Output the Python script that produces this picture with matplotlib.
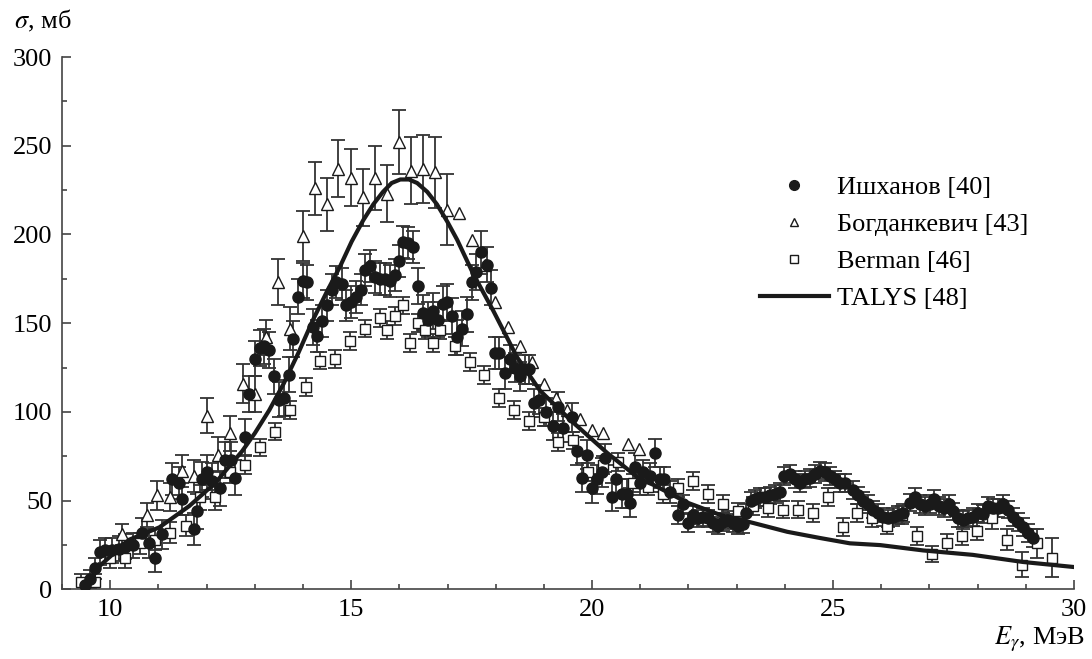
import numpy as np
import matplotlib
matplotlib.use('Agg')
import matplotlib.pyplot as plt
from matplotlib.lines import Line2D
from matplotlib.ticker import MultipleLocator

plt.rcParams['font.family'] = ['Liberation Serif', 'DejaVu Serif']
plt.rcParams['mathtext.fontset'] = 'stix'

# Ишханов [40]  (E, sigma, error)
ish_x = [9.48, 9.58, 9.69, 9.79, 9.90, 10.04, 10.19, 10.31, 10.48, 10.66,
         10.81, 10.93, 11.08, 11.29, 11.43, 11.49, 11.74, 11.80, 11.91, 12.01,
         12.12, 12.28, 12.39, 12.50, 12.59, 12.80, 12.88, 13.01, 13.10, 13.20,
         13.30, 13.40, 13.51, 13.61, 13.71, 13.80, 13.90, 14.00, 14.09, 14.21,
         14.29, 14.40, 14.50, 14.61, 14.69, 14.81, 14.90, 15.00, 15.10, 15.21,
         15.29, 15.39, 15.50, 15.60, 15.71, 15.81, 15.91, 16.00, 16.08, 16.18,
         16.29, 16.39, 16.49, 16.60, 16.70, 16.80, 16.91, 16.99, 17.10, 17.20,
         17.30, 17.41, 17.51, 17.59, 17.70, 17.82, 17.90, 17.99, 18.07, 18.20,
         18.30, 18.40, 18.50, 18.61, 18.69, 18.80, 18.90, 19.05, 19.19, 19.29,
         19.40, 19.58, 19.69, 19.79, 19.90, 20.00, 20.10, 20.21, 20.27, 20.41,
         20.50, 20.62, 20.73, 20.79, 20.89, 21.00, 21.06, 21.20, 21.31, 21.41,
         21.49, 21.62, 21.78, 21.89, 21.99, 22.10, 22.20, 22.30, 22.41, 22.51,
         22.61, 22.72, 22.82, 22.93, 23.03, 23.13, 23.20, 23.30, 23.38, 23.49,
         23.59, 23.69, 23.80, 23.90, 23.98, 24.11, 24.21, 24.32, 24.42, 24.52,
         24.63, 24.73, 24.83, 24.94, 25.04, 25.15, 25.25, 25.41, 25.52, 25.62,
         25.73, 25.83, 25.93, 26.04, 26.14, 26.24, 26.35, 26.45, 26.60, 26.70,
         26.80, 26.91, 27.01, 27.10, 27.20, 27.30, 27.41, 27.49, 27.59, 27.70,
         27.80, 27.90, 28.01, 28.11, 28.22, 28.32, 28.42, 28.53, 28.63, 28.73,
         28.84, 28.94, 29.04, 29.15]
ish_y = [2.5, 6, 12, 21, 22, 22, 23, 24, 25, 32,
         26, 18, 31, 62, 60, 51, 34, 44, 62, 66,
         61, 57, 73, 73, 63, 86, 110, 130, 136, 137,
         135, 120, 107, 108, 121, 141, 165, 174, 173, 148,
         143, 151, 160, 169, 173, 172, 160, 162, 165, 169,
         180, 182, 176, 175, 175, 174, 177, 185, 196, 195,
         193, 171, 156, 152, 157, 152, 161, 162, 154, 142,
         147, 155, 173, 179, 190, 183, 170, 133, 133, 122,
         130, 125, 120, 124, 124, 105, 107, 100, 92, 103,
         91, 97, 78, 63, 76, 57, 62, 66, 74, 52,
         62, 54, 54, 49, 69, 60, 66, 64, 77, 62,
         62, 55, 42, 48, 37.5, 42, 40, 41, 40, 37.5,
         36, 38, 39, 37.5, 36, 37, 43, 50, 51, 52,
         52, 53, 54, 55, 64, 65, 62, 60, 62, 63,
         65, 67, 66, 64, 62, 60, 60, 56, 53, 50,
         48, 45, 43, 41, 40, 41, 42, 43, 49, 52,
         48, 47, 48, 51, 47, 46, 48, 44, 40, 39,
         40, 41, 43, 42.5, 47, 46, 46, 48, 45, 41,
         38, 35, 32, 29]
ish_err = [4, 5, 6, 7, 7, 7, 7, 7, 7, 8,
           8, 8, 8, 9, 9, 9, 9, 10, 10, 10,
           10, 10, 10, 10, 10, 10, 10, 10, 10, 10,
           10, 10, 10, 10, 10, 10, 10, 10, 10, 10,
           9, 9, 9, 9, 9, 9, 9, 9, 9, 9,
           9, 9, 9, 9, 9, 9, 9, 9, 9, 9,
           9, 10, 10, 10, 10, 10, 10, 10, 10, 10,
           10, 10, 10, 10, 12, 10, 10, 9, 9, 9,
           8, 8, 8, 8, 8, 8, 8, 8, 8, 8,
           8, 8, 8, 8, 8, 8, 8, 8, 8, 8,
           8, 8, 8, 8, 8, 7, 7, 7, 8, 7,
           7, 6, 5, 5, 5, 5, 5, 5, 5, 5,
           5, 5, 5, 5, 5, 5, 5, 5, 5, 5,
           5, 5, 5, 5, 5, 5, 5, 5, 5, 5,
           5, 5, 5, 5, 5, 5, 5, 5, 5, 5,
           5, 5, 5, 5, 5, 5, 5, 5, 5, 5,
           5, 5, 5, 5, 5, 5, 5, 5, 5, 5,
           5, 5, 5, 5, 5, 5, 5, 5, 5, 5,
           5, 5, 5, 5]

# Богданкевич [43]
bog_x = [10.25, 10.77, 10.98, 11.24, 11.49, 11.73, 12.00, 12.24, 12.49, 12.75,
         13.01, 13.24, 13.49, 13.73, 14.00, 14.25, 14.50, 14.73, 15.00, 15.25,
         15.50, 15.75, 16.00, 16.24, 16.49, 16.74, 16.99, 17.24, 17.51, 17.78,
         17.99, 18.26, 18.51, 18.76, 19.00, 19.25, 19.48, 19.75, 20.00, 20.23,
         20.75, 20.98]
bog_y = [31, 42, 53, 52, 67, 64, 98, 76, 88, 116,
         110, 142, 173, 147, 199, 226, 217, 237, 232, 221,
         232, 223, 252, 236, 237, 235, 214, 212, 197, 183,
         162, 148, 137, 128, 116, 108, 101, 96, 90, 88,
         82, 79]
bog_err = [6, 7, 8, 8, 9, 9, 10, 10, 10, 11,
           10, 10, 13, 12, 14, 15, 15, 16, 16, 16,
           18, 16, 18, 19, 19, 20, 20, 0, 0, 0,
           0, 0, 0, 0, 0, 0, 0, 0, 0, 0,
           0, 0]

# Berman [46]
ber_x = [9.40, 9.69, 10.00, 10.31, 10.62, 10.93, 11.24, 11.58, 11.87, 12.18,
         12.49, 12.80, 13.11, 13.42, 13.73, 14.06, 14.36, 14.67, 14.98, 15.29,
         15.60, 15.75, 15.91, 16.08, 16.22, 16.39, 16.54, 16.70, 16.85, 17.16,
         17.47, 17.76, 18.07, 18.38, 18.69, 19.00, 19.29, 19.61, 19.92, 20.23,
         20.54, 20.85, 21.16, 21.47, 21.78, 22.10, 22.41, 22.72, 23.03, 23.34,
         23.65, 23.96, 24.27, 24.58, 24.90, 25.21, 25.50, 25.81, 26.12, 26.43,
         26.74, 27.05, 27.37, 27.68, 27.99, 28.30, 28.61, 28.92, 29.23, 29.54]
ber_y = [4, 4, 18, 18, 26, 28, 32, 36, 52, 52,
         66, 70, 80, 89, 101, 114, 129, 130, 140, 147,
         153, 146, 154, 160, 139, 150, 146, 139, 146, 137,
         128, 121, 108, 101, 95, 97, 83, 84, 66, 70,
         72, 60, 58, 54, 57, 61, 54, 48, 44, 47,
         46, 45, 45, 43, 52, 35, 43, 40, 36, 42,
         30, 20, 26, 30, 33, 40, 28, 14, 26, 18]
ber_err = [5, 5, 6, 6, 6, 6, 6, 6, 7, 7,
           6, 5, 5, 5, 5, 5, 5, 5, 5, 5,
           5, 5, 5, 5, 5, 5, 5, 5, 5, 5,
           5, 5, 5, 5, 5, 5, 5, 5, 5, 5,
           5, 5, 5, 5, 5, 5, 5, 5, 5, 5,
           5, 5, 5, 5, 5, 5, 5, 5, 5, 5,
           5, 4.5, 5, 5, 5, 6, 6, 7, 8, 11]

# TALYS [48]
talys_x = [9.48, 9.77, 10.39, 11.02, 11.64, 12.18, 12.74, 13.00, 13.30, 13.60,
           13.90, 14.21, 14.50, 14.77, 15.01, 15.25, 15.46, 15.66, 15.84, 16.02,
           16.20, 16.37, 16.58, 16.78, 17.00, 17.20, 17.53, 17.95, 18.44,
           18.92, 19.61, 20.31, 21.00, 21.27, 21.97, 22.66, 23.34, 24.05, 24.73,
           25.35, 25.98, 26.87, 27.90, 28.94, 29.98]
talys_y = [0, 13, 28, 35, 47, 60, 78, 88, 101, 116,
           133, 152, 168, 182, 196, 208, 217, 224, 229, 231,
           231, 229, 224, 217, 207, 197, 178, 157, 131,
           112, 94, 77, 62, 59, 49, 42, 37.5, 32.5, 29,
           26, 25, 22, 19.5, 15.5, 12.7]

fig = plt.figure(figsize=(10.92, 6.59), dpi=100)
ax = fig.add_axes([0.0568, 0.1055, 0.9267, 0.808])

ink = '#1a1a1a'
bar_kw = dict(fmt='none', ecolor='#333333', elinewidth=1.3, capsize=4.7, capthick=1.3)

# error bars first, markers on top
ax.errorbar(ber_x, ber_y, yerr=ber_err, zorder=2, **bar_kw)
bog_has = [i for i, e in enumerate(bog_err) if e > 0]
ax.errorbar([bog_x[i] for i in bog_has], [bog_y[i] for i in bog_has],
            yerr=[bog_err[i] for i in bog_has], zorder=2, **bar_kw)
ax.errorbar(ish_x, ish_y, yerr=ish_err, zorder=2, **bar_kw)

ax.plot(ber_x, ber_y, 's', ms=7, mfc='white', mec=ink, mew=1.0, zorder=3)
ax.plot(bog_x, bog_y, '^', ms=9, mfc='white', mec=ink, mew=1.0, zorder=3)
ax.plot(ish_x, ish_y, 'o', ms=8, color=ink, zorder=4)
ax.plot(talys_x, talys_y, '-', color=ink, lw=3, zorder=5)

ax.set_xlim(9, 30)
ax.set_ylim(0, 300)
ax.xaxis.set_major_locator(MultipleLocator(5))
ax.xaxis.set_minor_locator(MultipleLocator(1))
ax.yaxis.set_major_locator(MultipleLocator(50))
ax.yaxis.set_minor_locator(MultipleLocator(25))

for s in ['top', 'right']:
    ax.spines[s].set_visible(False)
for s in ['left', 'bottom']:
    ax.spines[s].set_color('#444444')
    ax.spines[s].set_linewidth(1.2)
ax.tick_params(which='both', direction='in', color='#444444', width=1.2,
               labelsize=19, pad=7)
ax.tick_params(which='major', length=6.5)
ax.tick_params(which='minor', length=3.6)

fig.text(0.013, 0.968, r'$\sigma$, мб', fontsize=19, ha='left', va='center')
fig.text(0.994, 0.030, r'$E_\gamma$, МэВ', fontsize=19, ha='right', va='center')

handles = [
    Line2D([], [], ls='none', marker='o', ms=7, color=ink),
    Line2D([], [], ls='none', marker='^', ms=6, mfc='white', mec=ink, mew=1.0),
    Line2D([], [], ls='none', marker='s', ms=5.5, mfc='white', mec=ink, mew=1.0),
    Line2D([], [], color=ink, lw=3),
]
labels = ['Ишханов [40]', 'Богданкевич [43]', 'Berman [46]', 'TALYS [48]']
fig.legend(handles, labels, loc='upper left', bbox_to_anchor=(0.696, 0.734),
           frameon=False, fontsize=19, handlelength=2.6, handletextpad=0.3,
           labelspacing=0.52, borderpad=0, borderaxespad=0)

fig.savefig('out.png', dpi=100)
